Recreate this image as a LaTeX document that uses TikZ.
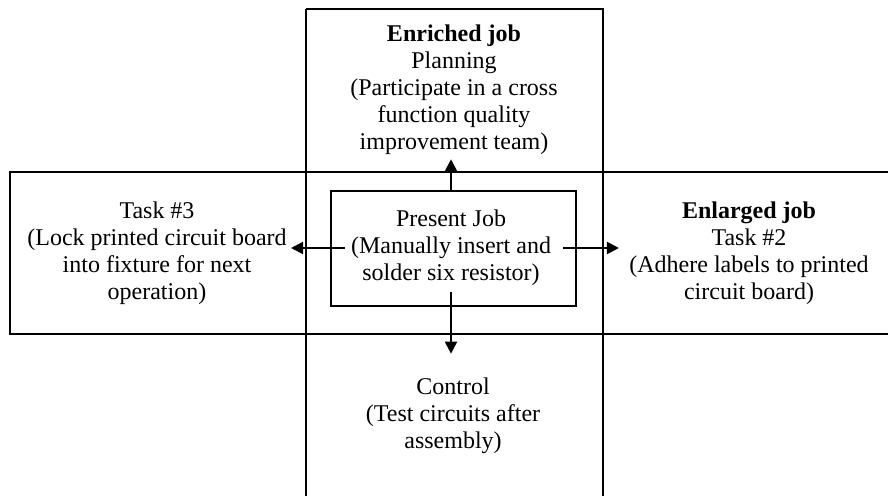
\documentclass[tikz,border=0pt]{standalone}
\usepackage{fontspec}
\setmainfont{Liberation Serif}
\usepackage{tikz}
\usetikzlibrary{arrows.meta, positioning}

\begin{document}
\begin{tikzpicture}
  [
    x=0.5pt, y=-0.5pt,
    Frame/.style={draw=black, line width=0.9pt},
    Txt/.style={align=center, inner sep=2pt, font=\fontsize{12}{13.5}\selectfont},
    Arrow/.style={-{Triangle[length=6pt, width=6pt]}, draw, line width=1pt}
  ]
  \useasboundingbox (0, 0) rectangle (888, 496);
  \clip (0, 0) rectangle (888, 496);

  % Frames
  \draw[Frame] (306, 9) -- (306, 510) (603, 510) -- (603, 9) -- (306, 9);
  \draw[Frame] (900, 172) -- (10, 172) -- (10, 334) -- (900, 334);
  \draw[Frame] (306, 172) -- (306, 334) (603, 172) -- (603, 334);
  \draw[Frame] (331, 191) rectangle (576, 306);

  % Nodes
  \node[Txt, inner sep=3pt] (present) at (451, 248) {Present Job\\(Manually insert and\\solder six resistor)};

  \node[Txt] (enriched) at (454, 90) {\textbf{Enriched job}\\Planning\\(Participate in a cross\\function quality\\improvement team)};

  \node[Txt] (task3) at (157, 253) {Task \#3\\(Lock printed circuit board\\into fixture for next\\operation)};

  \node[Txt] (enlarged) at (749, 253) {\textbf{Enlarged job}\\Task \#2\\(Adhere labels to printed\\circuit board)};

  \node[Txt] (control) at (453, 416) {Control\\(Test circuits after\\assembly)};

  \coordinate (boxtop) at (present.north |- 0, 191);

  % Lines
  \path [Arrow] (boxtop) -- (boxtop |- enriched.south);
  \path [Arrow] (present.west) -- (present.west -| task3.east);
  \path [Arrow, shorten <=3pt, shorten >=3pt] (present.east) -- (present.east -| enlarged.west);
  \path [Arrow, shorten >=10pt] (present.south) -- (present.south |- control.north);

\end{tikzpicture}
\end{document}
